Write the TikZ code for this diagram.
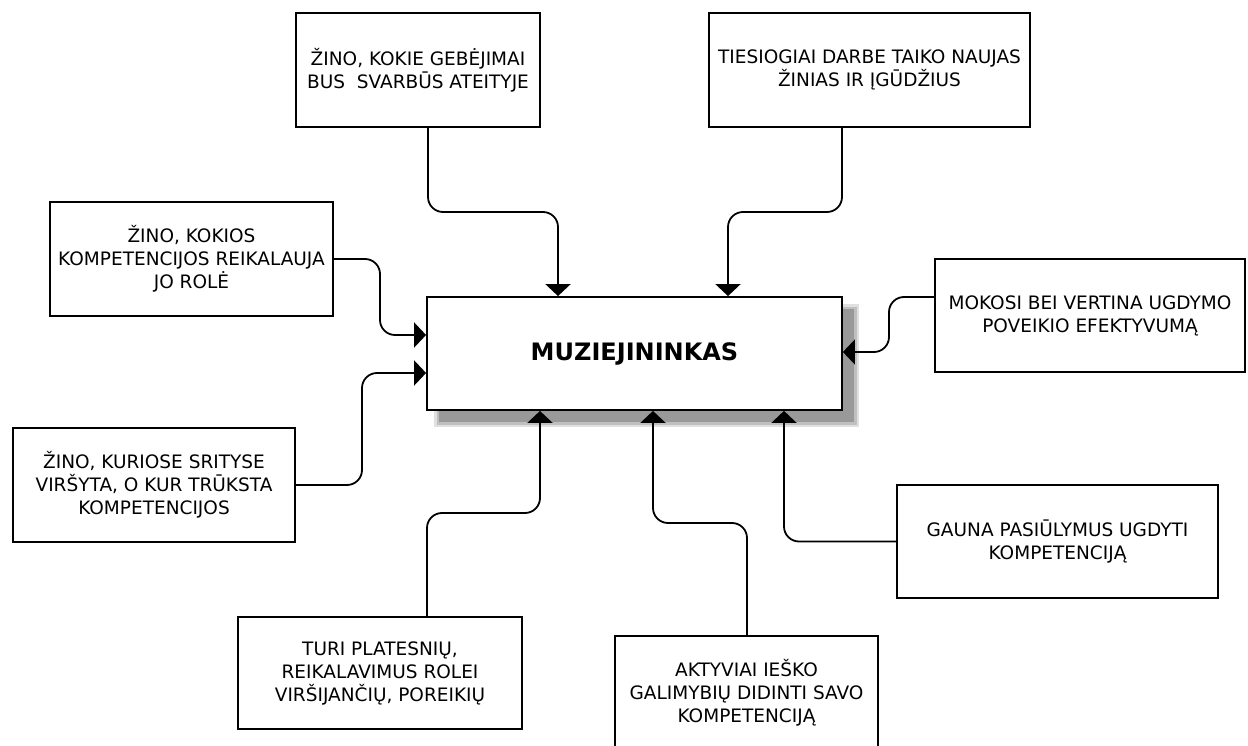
\documentclass[tikz,border=0pt]{standalone}
\usepackage{fontspec}
\setmainfont{DejaVu Sans}
\usetikzlibrary{arrows.meta}
\begin{document}
\begin{tikzpicture}[x=1pt,y=-1pt,
  box/.style={draw, line width=1.8pt, fill=white, align=center, inner sep=0pt,
    font=\fontsize{18.5}{23}\selectfont},
  link/.style={draw, line width=1.8pt, rounded corners=15pt,
    -{Triangle[width=25pt,length=12pt]}}]
\useasboundingbox (0,0) rectangle (1248,746);

% soft drop shadow under the central box
\foreach \d/\o in {5/0.12,2.5/0.15,0/0.2}
  \fill[black, opacity=\o] (439-\d,309-\d) rectangle (854+\d,422+\d);

% central box
\node[box, minimum width=415pt, minimum height=113pt,
  font=\bfseries\fontsize{24}{28}\selectfont] (m) at (634.5,353.5) {MUZIEJININKAS};

% surrounding boxes
\node[box, minimum width=244pt, minimum height=114pt] (b1) at (418,70)
  {ŽINO, KOKIE GEBĖJIMAI\\BUS~ SVARBŪS ATEITYJE};
\node[box, minimum width=321pt, minimum height=114pt] (b2) at (869.5,70)
  {TIESIOGIAI DARBE TAIKO NAUJAS\\ŽINIAS IR ĮGŪDŽIUS};
\node[box, minimum width=283pt, minimum height=114pt] (b3) at (191.5,259)
  {ŽINO, KOKIOS\\KOMPETENCIJOS REIKALAUJA\\JO ROLĖ};
\node[box, minimum width=282pt, minimum height=114pt] (b4) at (154,485)
  {ŽINO, KURIOSE SRITYSE\\VIRŠYTA, O KUR TRŪKSTA\\KOMPETENCIJOS};
\node[box, minimum width=310pt, minimum height=113pt] (b5) at (1090,315.5)
  {MOKOSI BEI VERTINA UGDYMO\\POVEIKIO EFEKTYVUMĄ};
\node[box, minimum width=321pt, minimum height=113pt] (b6) at (1057.5,541.5)
  {GAUNA PASIŪLYMUS UGDYTI\\KOMPETENCIJĄ};
\node[box, minimum width=284pt, minimum height=112pt] (b7) at (380,673)
  {TURI PLATESNIŲ,\\REIKALAVIMUS ROLEI\\VIRŠIJANČIŲ, POREIKIŲ};
\node[box, minimum width=263pt, minimum height=113pt] (b8) at (746.5,692.5)
  {AKTYVIAI IEŠKO\\GALIMYBIŲ DIDINTI SAVO\\KOMPETENCIJĄ};

% connectors into the central box
\draw[link] (b1.south -| 428,0) -- (428,212) -- (558,212) -- (m.north -| 558,0);
\draw[link] (b2.south -| 842,0) -- (842,212) -- (728,212) -- (m.north -| 728,0);
\draw[link] (b3.east) -- (380,259) -- (380,335) -- (m.west |- 0,335);
\draw[link] (b4.east) -- (362,485) -- (362,373) -- (m.west |- 0,373);
\draw[link] (b5.west |- 0,297) -- (889,297) -- (889,352) -- (m.east |- 0,352);
\draw[link] (b6.west) -- (784,541.5) -- (m.south -| 784,0);
\draw[link] (b8.north -| 747,0) -- (747,523) -- (653,523) -- (m.south -| 653,0);
\draw[link] (b7.north -| 427,0) -- (427,513) -- (540,513) -- (m.south -| 540,0);
\end{tikzpicture}
\end{document}
